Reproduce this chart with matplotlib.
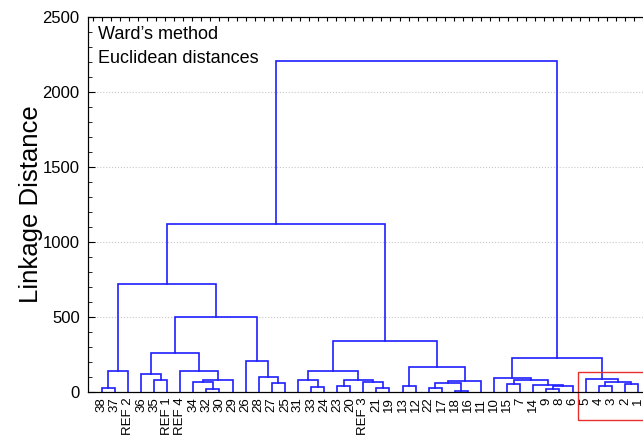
"""
Ward's method dendrogram (Euclidean distances)
"""
import matplotlib
matplotlib.use('Agg')
from matplotlib import pyplot as plt
from matplotlib.patches import Rectangle
from matplotlib.ticker import MultipleLocator, NullFormatter

plt.rcParams['font.family'] = ['Liberation Sans', 'DejaVu Sans']

# leaf order along the x axis
LEAVES = ['38', '37', 'REF 2', '36', '35', 'REF 1', 'REF 4', '34', '32', '30',
          '29', '26', '28', '27', '25', '31', '33', '24', '23', '20',
          'REF 3', '21', '19', '13', '12', '22', '17', '18', '16', '11',
          '10', '15', '7', '14', '9', '8', '6', '5', '4', '3', '2', '1']

# merges: name, left child, right child, linkage distance
MERGE_NAMES = ['A1', 'A2', 'B1', 'B2', 'C1', 'C2', 'C3', 'C4', 'D1',
               'E1', 'E2', 'E3', 'F1', 'G1',
               'H1', 'H2', 'H3', 'H4', 'H5', 'H6', 'H7',
               'I1', 'I2', 'I3', 'I4', 'I5', 'I6', 'J1', 'K1',
               'L1', 'L2', 'L3', 'L4', 'L5', 'L6',
               'M1', 'M2', 'M3', 'M4', 'N1', 'TOP']
MERGE_LEFT = ['38', 'A1', '35', '36', '32', '34', 'C2', 'REF 4', 'B2',
              '27', '28', '26', 'D1', 'A2',
              '33', '31', '23', '21', 'REF 3', 'H3', 'H2',
              '13', '22', '18', 'I2', 'I4', 'I1', 'H7', 'G1',
              '15', '9', 'L2', '14', 'L1', '10',
              '4', '2', 'M1', '5', 'L6', 'K1']
MERGE_RIGHT = ['37', 'REF 2', 'REF 1', 'B1', '30', 'C1', '29', 'C3', 'C4',
               '25', 'E1', 'E2', 'E3', 'F1',
               '24', 'H1', '20', '19', 'H4', 'H5', 'H6',
               '12', '17', '16', 'I3', '11', 'I5', 'I6', 'J1',
               '7', '8', '6', 'L3', 'L4', 'L5',
               '3', '1', 'M2', 'M3', 'M4', 'N1']
MERGE_HEIGHT = [28, 143, 78, 118, 19, 64, 82, 140, 262,
                60, 98, 210, 498, 720,
                35, 82, 42, 27, 64, 77, 138,
                40, 28, 9, 63, 73, 170, 340, 1120,
                55, 21, 37, 45, 80, 93,
                38, 51, 66, 89, 230, 2207]

LINE_COLOR = '#1f1fff'


def main():
    fig = plt.figure(figsize=(6.43, 4.37), dpi=100)
    ax = fig.add_axes([88 / 643, 45 / 437, 563 / 643, 375 / 437])

    pos = {name: float(i) for i, name in enumerate(LEAVES)}
    height = {name: 0.0 for name in LEAVES}
    for name, left, right, h in zip(MERGE_NAMES, MERGE_LEFT, MERGE_RIGHT, MERGE_HEIGHT):
        xl, xr = pos[left], pos[right]
        ax.plot([xl, xl, xr, xr], [height[left], h, h, height[right]],
                color=LINE_COLOR, linewidth=1.2, solid_joinstyle='miter', zorder=3)
        pos[name] = (xl + xr) / 2
        height[name] = h

    ax.set_xlim(-1.05, 42)
    ax.set_ylim(0, 2500)
    ax.set_xticks(range(len(LEAVES)))
    ax.set_xticklabels(LEAVES, rotation=90, fontsize=9.5)
    ax.tick_params(axis='x', length=0, pad=4)
    ax.yaxis.set_major_locator(MultipleLocator(500))
    ax.yaxis.set_minor_locator(MultipleLocator(100))
    ax.tick_params(axis='y', which='major', direction='in', length=5, labelsize=12, pad=6)
    ax.tick_params(axis='y', which='minor', direction='in', length=3)
    ax.yaxis.grid(True, linestyle=':', color='#c8c8c8', linewidth=0.8)
    ax.set_axisbelow(True)

    # small inward ticks along the top edge
    top = ax.twiny()
    top.set_xlim(ax.get_xlim())
    top.xaxis.set_major_locator(MultipleLocator(0.69))
    top.xaxis.set_major_formatter(NullFormatter())
    top.tick_params(axis='x', direction='in', length=3, width=0.8)

    ax.set_ylabel('Linkage Distance', fontsize=18.5, labelpad=0)
    ax.text(0.018, 0.975, 'Ward\u2019s method', transform=ax.transAxes,
            fontsize=13, va='top', ha='left')
    ax.text(0.018, 0.913, 'Euclidean distances', transform=ax.transAxes,
            fontsize=13, va='top', ha='left')

    # red box round the last group
    x0 = pos['5'] - 0.6
    ax.add_patch(Rectangle((x0, -187), 6, 322, fill=False, edgecolor='#e8312f',
                           linewidth=1.0, clip_on=False, zorder=4))

    fig.savefig('out.png', dpi=100)


if __name__ == '__main__':
    main()
